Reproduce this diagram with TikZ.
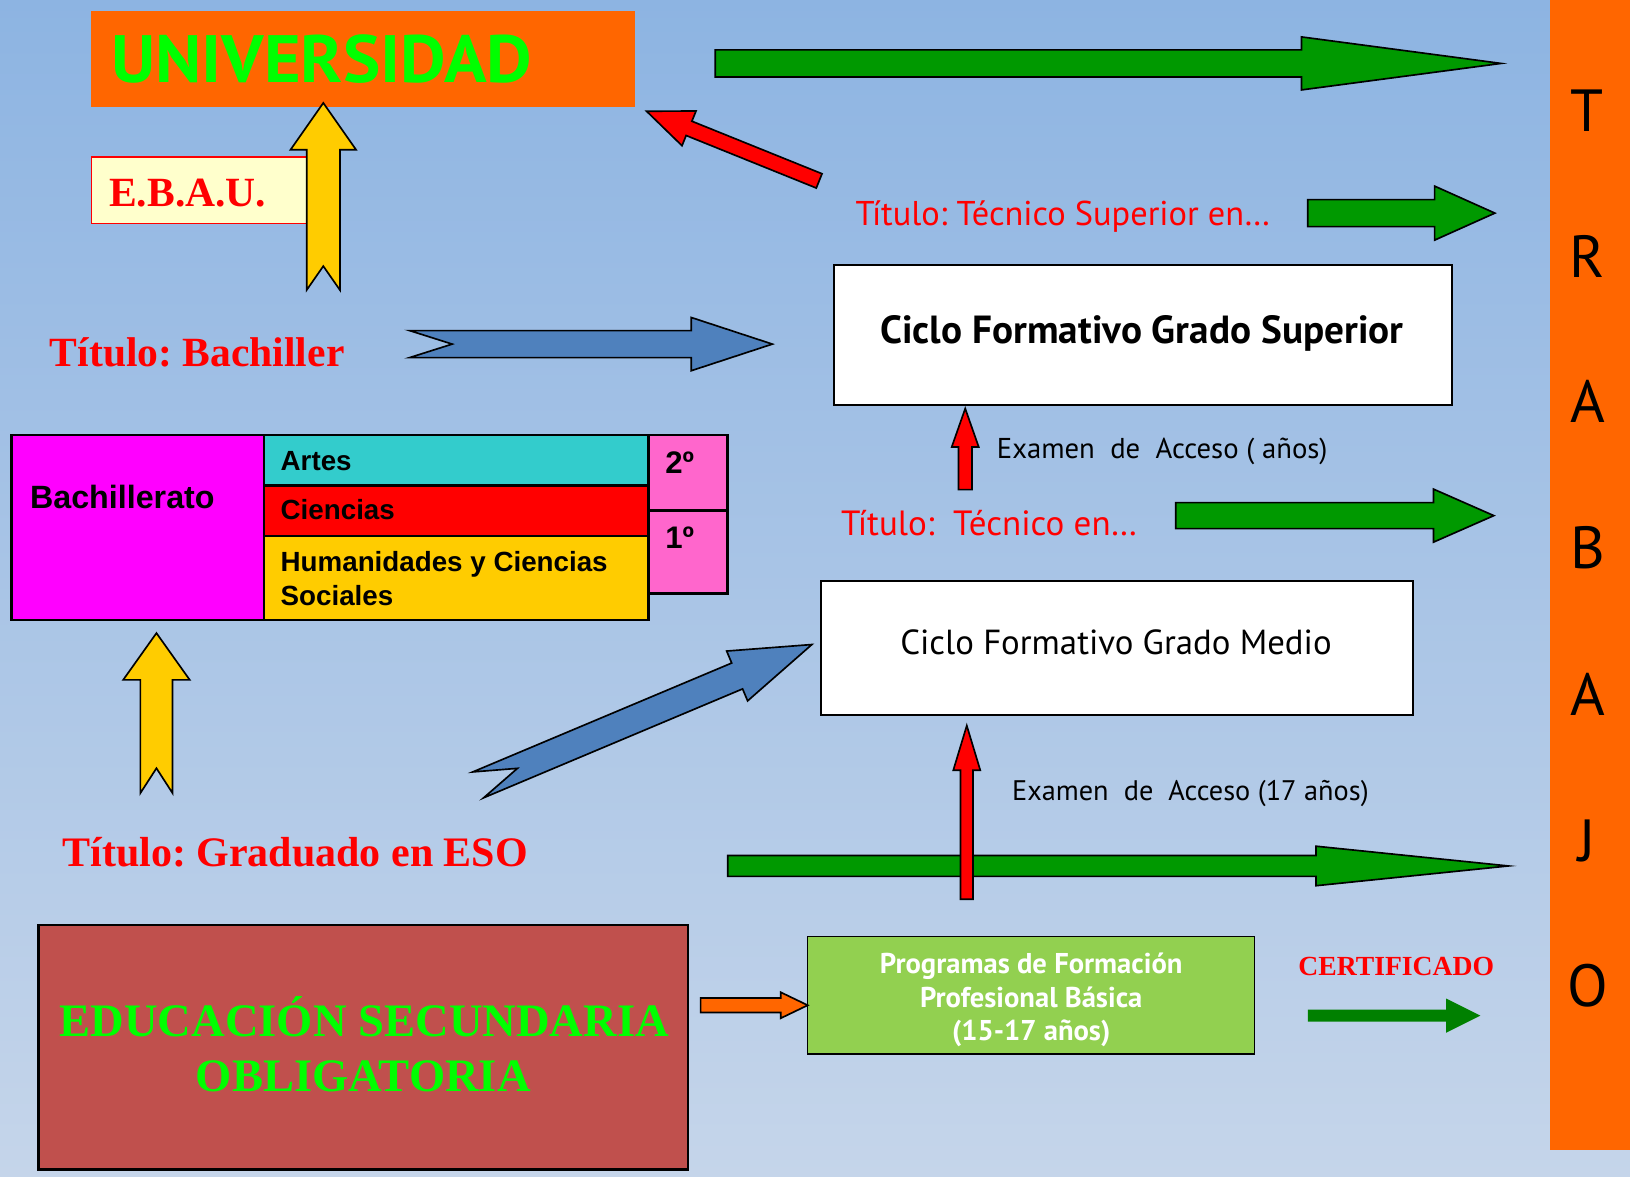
\documentclass[tikz,border=0pt]{standalone}
\usepackage{fontspec}
\usepackage{graphicx}
\usetikzlibrary{calc}
\frenchspacing
\newfontfamily\tnr{Liberation Serif}
\newfontfamily\arl{Liberation Sans}
\newfontfamily\pts{PT Sans}
\definecolor{bgtop}{RGB}{141,180,226}
\definecolor{bgbot}{RGB}{197,213,234}
\definecolor{orangeT}{RGB}{255,102,0}
\definecolor{limeT}{RGB}{0,255,0}
\definecolor{greenA}{RGB}{0,153,0}
\definecolor{greenC}{RGB}{0,128,0}
\definecolor{blueA}{RGB}{79,129,189}
\definecolor{yellowA}{RGB}{255,204,0}
\definecolor{redT}{RGB}{255,0,0}
\definecolor{creamT}{RGB}{255,255,204}
\definecolor{magentaT}{RGB}{255,0,255}
\definecolor{tealT}{RGB}{51,204,204}
\definecolor{pinkT}{RGB}{255,102,204}
\definecolor{pfpbT}{RGB}{146,208,80}
\definecolor{esoT}{RGB}{192,80,77}
% block arrow: #1 style, #2 tail coord, #3 tip coord, #4 half shaft, #5 half head, #6 head length, #7 notch depth
\newcommand\blockarr[7]{%
  \coordinate (ba-h) at ($(#3)!#6!(#2)$);
  \coordinate (ba-n) at ($(#2)!#7!(#3)$);
  \draw[#1] ($(#2)!#4!90:(#3)$) -- ($(ba-h)!#4!90:(#3)$) -- ($(ba-h)!#5!90:(#3)$) -- (#3)
    -- ($(ba-h)!#5!-90:(#3)$) -- ($(ba-h)!#4!-90:(#3)$) -- ($(#2)!#4!-90:(#3)$) -- (ba-n) -- cycle;
}
\newcommand\fitw[2]{\resizebox{#1}{!}{#2}}
\begin{document}
\begin{tikzpicture}[x=0.5pt,y=-0.5pt,
  box/.style={rectangle,inner sep=0pt,outer sep=0pt,anchor=north west},
  lbl/.style={inner sep=0pt,outer sep=0pt,anchor=base west},
  arr/.style={draw=black,line width=0.8pt,line join=miter,miter limit=30},
  serifT/.style={font={\tnr\bfseries\fontsize{20}{24}\selectfont},text=redT},
  arialB/.style={font={\arl\bfseries\fontsize{13.35}{16}\selectfont}},
  tabbox/.style={box,draw=black,line width=1.2pt}
]
\useasboundingbox (0,0) rectangle (1568,1132);
\shade[top color=bgtop,bottom color=bgbot] (0,0) rectangle (1568,1132);

% TRABAJO column
\node[box,fill=orangeT,minimum width=38.5pt,minimum height=553pt] (trabajo) at (1491,0) {};
\foreach \l/\yy [count=\i] in {T/106,R/247,A/386,B/527,A/668,J/809,O/948}
  \node[inner sep=0pt,anchor=center,font={\pts\fontsize{28.6}{30}\selectfont}] (trab\i) at (1527,\yy) {\l};

% UNIVERSIDAD
\node[box,fill=orangeT,minimum width=261.5pt,minimum height=46pt] (univ) at (88,11) {};
\node[lbl,text=limeT] (univtxt) at (107,79.5) {\resizebox{202.5pt}{23pt}{\pts\bfseries\fontsize{33}{36}\selectfont UNIVERSIDAD}};

% E.B.A.U.
\node[box,fill=creamT,draw=redT,line width=0.7pt,minimum width=105pt,minimum height=32pt] (ebau) at (88,151) {};
\node[lbl,serifT] (ebautxt) at (105,199) {E.B.A.U.};

% Titles
\node[lbl,serifT] (tbach) at (48,353) {Título: Bachiller};
\node[lbl,serifT,font={\tnr\bfseries\fontsize{20.2}{24}\selectfont}] (tgrad) at (60,834) {Título: Graduado en ESO};

% Bachillerato table
\node[tabbox,fill=magentaT,minimum width=121.5pt,minimum height=89pt] (bach) at (11,418.5) {};
\node[tabbox,fill=tealT,minimum width=185pt,minimum height=24.25pt] (artes) at (254,418.5) {};
\node[tabbox,fill=redT,minimum width=185pt,minimum height=24.3pt] (cien) at (254,467) {};
\node[tabbox,fill=yellowA,minimum width=185pt,minimum height=40.5pt] (hum) at (254,515.6) {};
\node[tabbox,fill=pinkT,minimum width=38pt,minimum height=36.25pt] (p2) at (624,418.5) {};
\node[tabbox,fill=pinkT,minimum width=38pt,minimum height=40pt] (p1) at (624,491) {};
\node[lbl,font={\arl\bfseries\fontsize{15.5}{18}\selectfont}] (bachtxt) at (29,489) {Bachillerato};
\node[lbl,arialB] (artestxt) at (270,452.6) {Artes};
\node[lbl,arialB] (cientxt) at (270,500) {Ciencias};
\node[lbl,arialB] (humtxt1) at (270,549.6) {Humanidades y Ciencias};
\node[lbl,arialB] (humtxt2) at (270,582) {Sociales};
\node[lbl,font={\arl\bfseries\fontsize{15}{18}\selectfont}] (p2txt) at (640,455) {2º};
\node[lbl,font={\arl\bfseries\fontsize{15}{18}\selectfont}] (p1txt) at (640,528) {1º};

% Ciclos
\node[box,draw=black,line width=1pt,fill=white,minimum width=297.5pt,minimum height=67.5pt] (cfgs) at (802,255) {};
\node[lbl] (cfgstxt) at (847,330) {\fitw{251.5pt}{\pts\bfseries\fontsize{15.7}{18}\selectfont Ciclo Formativo Grado Superior}};
\node[box,draw=black,line width=1pt,fill=white,minimum width=284.5pt,minimum height=64.5pt] (cfgm) at (790,559) {};
\node[lbl] (cfgmtxt) at (866,630) {\fitw{207.5pt}{\pts\fontsize{15.7}{18}\selectfont Ciclo Formativo Grado Medio}};

\node[lbl,text=redT] (tts) at (823,216.5) {\fitw{199.5pt}{\pts\fontsize{15.4}{18}\selectfont Título: Técnico Superior en…}};
\node[lbl,text=redT] (tte) at (809,514.7) {\fitw{142.5pt}{\pts\fontsize{15.4}{18}\selectfont Título:\ \ Técnico en…}};
\node[lbl] (exa1) at (959,441) {\fitw{159pt}{\pts\fontsize{11.4}{14}\selectfont Examen\ \ de\ \ Acceso ( años)}};
\node[lbl] (exa2) at (973.6,770) {\fitw{171.5pt}{\pts\fontsize{11.4}{14}\selectfont Examen\ \ de\ \ Acceso (17 años)}};

% PFPB
\node[box,draw=black,line width=0.6pt,fill=pfpbT,minimum width=215pt,minimum height=56.5pt] (pfpb) at (777,901) {};
\node[inner sep=0pt,text=white] (pfpbtxt) at (992,962.5) {\fitw{145.5pt}{\pts\bfseries\fontsize{13}{15.3}\selectfont\begin{tabular}{@{}c@{}}Programas de Formación\\Profesional Básica\\(15-17 años)\end{tabular}}};

% ESO
\node[box,draw=black,line width=1pt,fill=esoT,minimum width=312.5pt,minimum height=117.5pt] (eso) at (37,890) {};
\node[anchor=base,inner sep=0pt,font={\tnr\bfseries\fontsize{22.4}{26}\selectfont},text=limeT] (eso1) at (350.5,996.6) {EDUCACIÓN SECUNDARIA};
\node[anchor=base,inner sep=0pt,font={\tnr\bfseries\fontsize{22.4}{26}\selectfont},text=limeT] (eso2) at (349.5,1050) {OBLIGATORIA};

\node[lbl,font={\tnr\bfseries\fontsize{13.3}{16}\selectfont},text=redT] (cert) at (1249,938) {CERTIFICADO};

% arrow end points
\coordinate (gt-t) at (688,61);   \coordinate (gt-p) at (1444,61);
\coordinate (gts-t) at (1258,205); \coordinate (gts-p) at (1438,205);
\coordinate (gte-t) at (1131,496); \coordinate (gte-p) at (1437,496);
\coordinate (gl-t) at (700,833);  \coordinate (gl-p) at (1451,833);
\coordinate (r17-t) at (930,865); \coordinate (r17-p) at (930,698);
\coordinate (rs-t) at (928.5,471); \coordinate (rs-p) at (928.5,393);
\coordinate (rd-t) at (788,174);  \coordinate (rd-p) at (622,107);
\coordinate (bh-t) at (394,331);  \coordinate (bh-p) at (743,331);
\coordinate (bd-t) at (460,755);  \coordinate (bd-p) at (781,620);
\coordinate (yu-t) at (311,279);  \coordinate (yu-p) at (311,99);
\coordinate (yl-t) at (150.5,763); \coordinate (yl-p) at (150.5,609);
\coordinate (or-t) at (674,967);  \coordinate (or-p) at (777,967);
\coordinate (gc-t) at (1258,977); \coordinate (gc-p) at (1424,977);

\blockarr{arr,fill=greenA}{gt-t}{gt-p}{6.5pt}{12.75pt}{96pt}{0pt}
\blockarr{arr,fill=redT}{rd-t}{rd-p}{3.7pt}{9pt}{22pt}{0pt}
\blockarr{arr,fill=yellowA}{yu-t}{yu-p}{8pt}{15.75pt}{22.5pt}{11.5pt}
\blockarr{arr,fill=greenA}{gts-t}{gts-p}{6.5pt}{13pt}{29pt}{0pt}
\blockarr{arr,fill=blueA}{bh-t}{bh-p}{6.5pt}{12.8pt}{39pt}{20.5pt}
\blockarr{arr,fill=redT}{rs-t}{rs-p}{3.25pt}{6.5pt}{18.5pt}{0pt}
\blockarr{arr,fill=greenA}{gte-t}{gte-p}{6.25pt}{12.75pt}{29pt}{0pt}
\blockarr{arr,fill=blueA}{bd-t}{bd-p}{6.75pt}{13pt}{39pt}{20.5pt}
\blockarr{arr,fill=yellowA}{yl-t}{yl-p}{7.75pt}{16pt}{22.5pt}{12pt}
\blockarr{arr,fill=greenA}{gl-t}{gl-p}{5pt}{9.5pt}{92.5pt}{0pt}
\blockarr{arr,fill=redT}{r17-t}{r17-p}{3pt}{6.5pt}{21.5pt}{0pt}
\blockarr{arr,fill=orangeT}{or-t}{or-p}{3.5pt}{6.25pt}{13pt}{0pt}
\blockarr{draw=none,fill=greenC}{gc-t}{gc-p}{2.85pt}{8.25pt}{16.5pt}{0pt}
\end{tikzpicture}
\end{document}
